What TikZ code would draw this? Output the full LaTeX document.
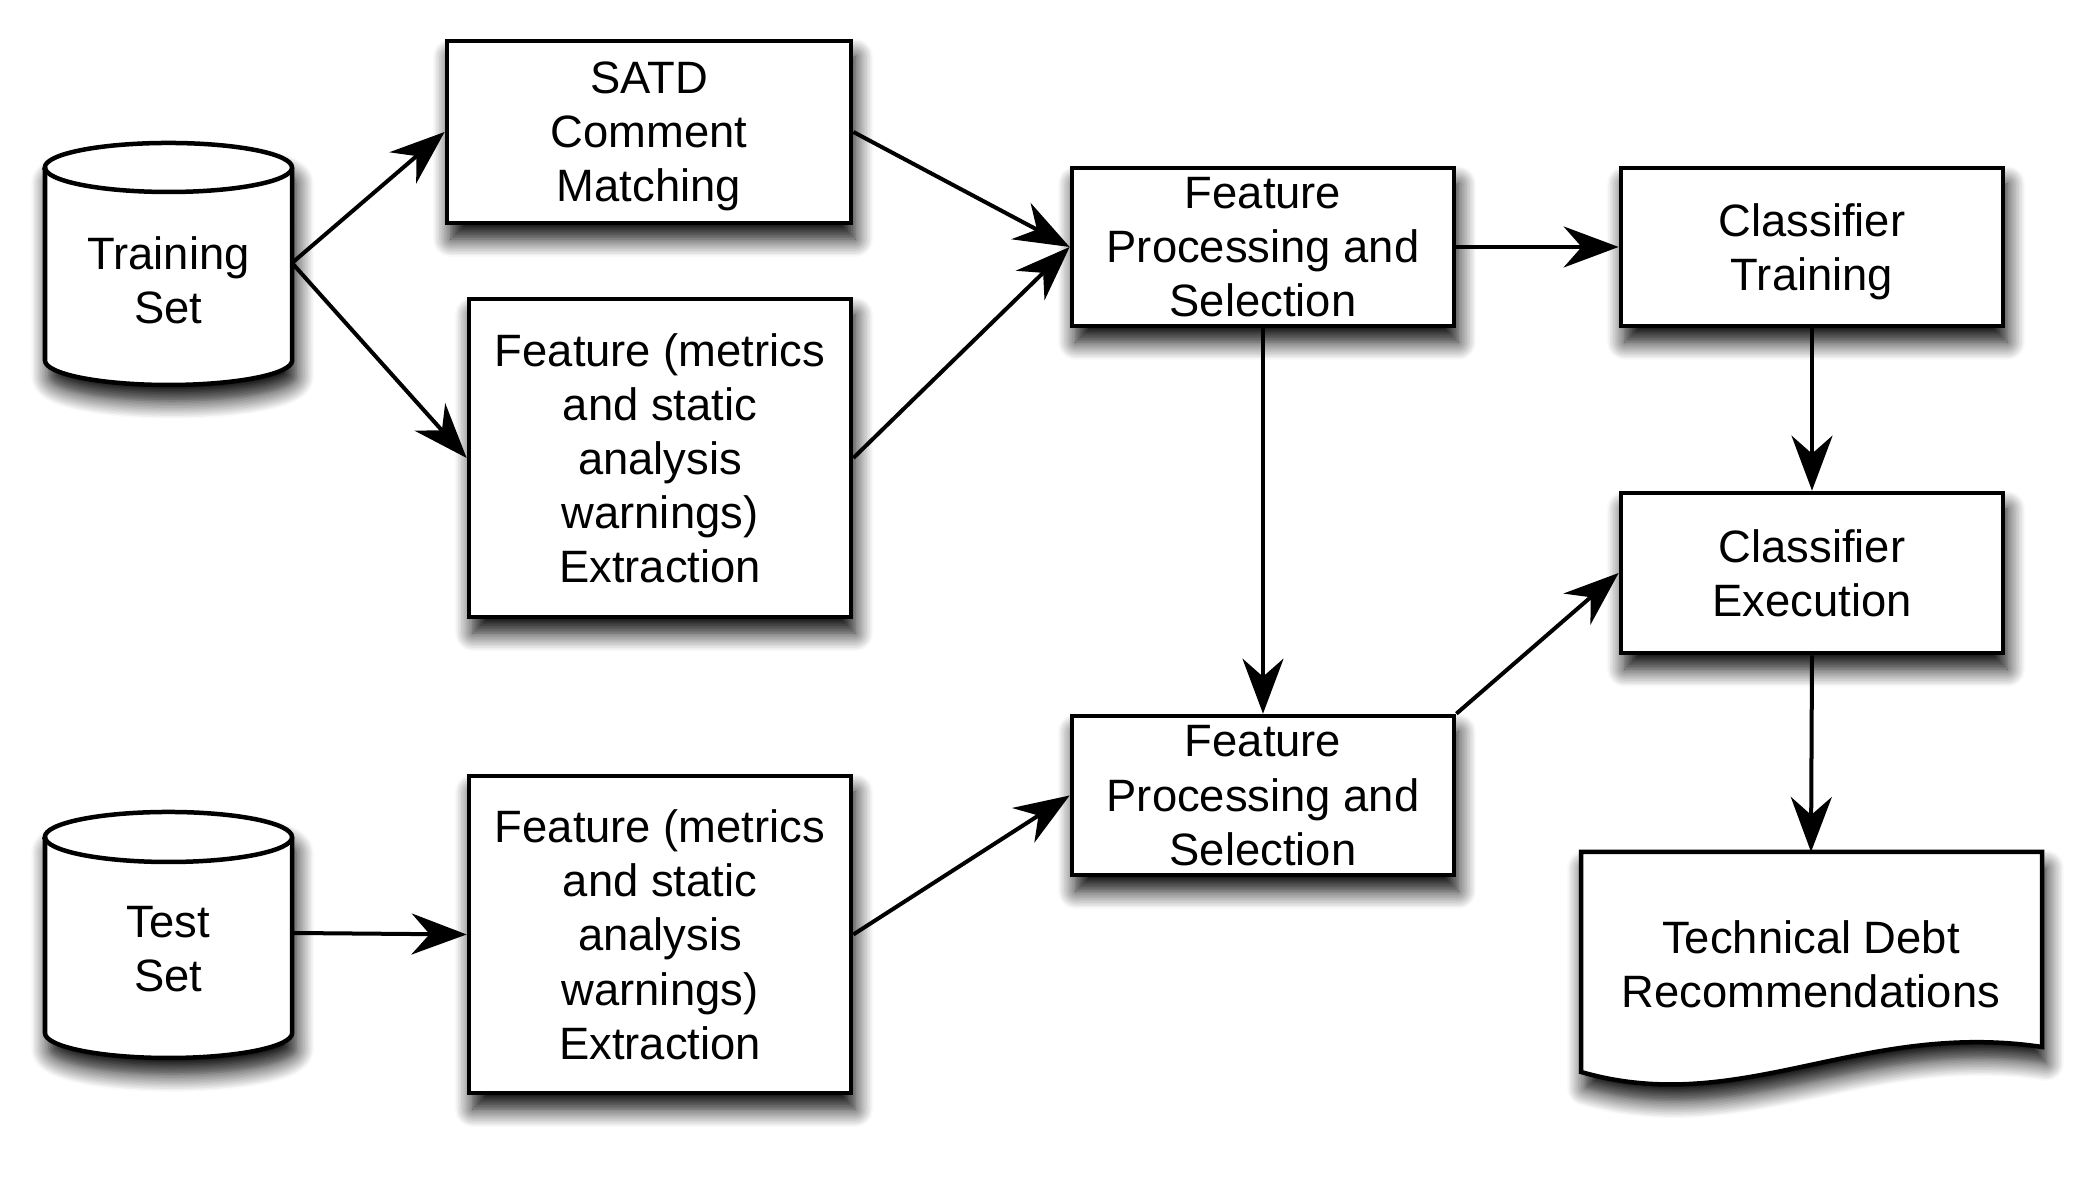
\documentclass[tikz,border=0pt]{standalone}
\usepackage{fontspec}
\setmainfont{Liberation Sans}
\usetikzlibrary{arrows.meta,shadows.blur}
\begin{document}
\begin{tikzpicture}[x=0.01cm,y=0.01cm,
  every node/.style={font=\fontsize{12.9}{15.4}\selectfont},
  shadowed/.style={blur shadow={shadow xshift=0.04cm, shadow yshift=-0.16cm, shadow blur radius=0.18cm, shadow blur steps=12, shadow opacity=100}},
  outline/.style={draw, line width=0.045cm, fill=white},
  box/.style={outline, shadowed, inner sep=0pt, align=center, minimum width=3.82cm, text depth=0pt},
  txt/.style={align=center, inner sep=0pt},
  arr/.style={-{Stealth[length=0.55cm,width=0.41cm,inset=0.18cm,fill=black]}, line width=0.04cm, draw=black, draw opacity=1, fill opacity=1},
]
\useasboundingbox (0,0) rectangle (2100,1180);

% Training Set cylinder
\path[outline, shadowed] (45,1012.5) -- (45,819.5)
  arc[start angle=180,end angle=360,x radius=1.235cm,y radius=0.245cm]
  -- (292,1012.5)
  arc[start angle=0,end angle=180,x radius=1.235cm,y radius=0.245cm] -- cycle;
\draw[line width=0.045cm] (45,1012.5) arc[start angle=180,end angle=360,x radius=1.235cm,y radius=0.245cm];
\node[txt] (train) at (168.5,900) {Training\\Set};
\coordinate (train-e) at (292,917);

% Test Set cylinder
\path[outline, shadowed] (45,343) -- (45,147)
  arc[start angle=180,end angle=360,x radius=1.235cm,y radius=0.25cm]
  -- (292,343)
  arc[start angle=0,end angle=180,x radius=1.235cm,y radius=0.25cm] -- cycle;
\draw[line width=0.045cm] (45,343) arc[start angle=180,end angle=360,x radius=1.235cm,y radius=0.25cm];
\node[txt] (test) at (168.5,231) {Test\\Set};
\coordinate (test-e) at (292,247);

% Boxes
\node[box, minimum width=4.04cm, minimum height=1.82cm] (satd) at (649,1048) {SATD\\Comment\\Matching};
\node[box, minimum height=3.18cm] (fe1) at (660,722) {Feature (metrics\\and static\\analysis\\warnings)\\Extraction};
\node[box, minimum height=3.17cm] (fe2) at (660,245.5) {Feature (metrics\\and static\\analysis\\warnings)\\Extraction};
\node[box, minimum height=1.58cm] (fps1) at (1263,933) {Feature\\Processing and\\Selection};
\node[box, minimum height=1.59cm] (fps2) at (1263,384.5) {Feature\\Processing and\\Selection};
\node[box, minimum height=1.58cm] (ct) at (1812,933) {Classifier\\Training};
\node[box, minimum height=1.60cm] (ce) at (1812,607) {Classifier\\Execution};

% Document shape
\path[outline, shadowed] (1581,328) -- (2042,328) -- (2042,133)
  .. controls (1860,160) and (1740,62) .. (1581,108) -- cycle;
\node[txt] (td) at (1811,216) {Technical Debt\\Recommendations};
\coordinate (td-n) at (1811,328);

% Connectors
\draw[arr] (train-e) -- (satd.west);
\draw[arr] (train-e) -- (fe1.west);
\draw[arr] (satd.east) -- (fps1.west);
\draw[arr] (fe1.east) -- (fps1.west);
\draw[arr] (fps1.east) -- (ct.west);
\draw[arr] (fps1.south) -- (fps2.north);
\draw[arr] (ct.south) -- (ce.north);
\draw[arr] (fps2.north east) -- (ce.west);
\draw[arr] (ce.south) -- (td-n);
\draw[arr] (test-e) -- (fe2.west);
\draw[arr] (fe2.east) -- (fps2.west);
\end{tikzpicture}
\end{document}
